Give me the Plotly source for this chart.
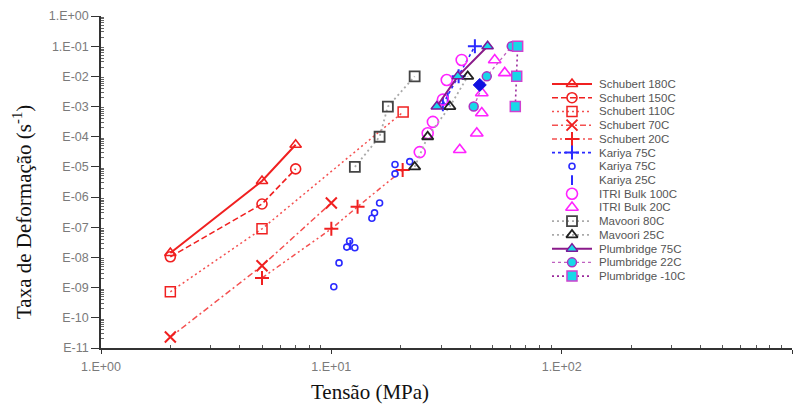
import plotly.graph_objects as go

# ---------------- data ----------------
s180_x = [2, 5, 7]
s180_y = [1.4e-8, 3.4e-6, 5.4e-5]
s150_x = [2, 5, 7]
s150_y = [1.05e-8, 5.9e-7, 8.6e-6]
s110_x = [2, 5, 20.5]
s110_y = [7.3e-10, 8.9e-8, 6.6e-4]
s70_x = [2, 5, 10]
s70_y = [2.3e-11, 5.3e-9, 6.4e-7]
s20_x = [5, 10, 13, 20.4]
s20_y = [2.1e-9, 8.9e-8, 4.8e-7, 7.9e-6]

k75l_x = [30.5, 35.7, 42]
k75l_y = [1.2e-3, 1e-2, 1e-1]
k75c_x = [10.25, 10.8, 11.67, 12.0, 12.65, 15.0, 15.4, 16.2, 18.9, 18.9, 21.9]
k75c_y = [1.07e-9, 6.6e-9, 2.2e-8, 3.5e-8, 2.1e-8, 2.0e-7, 3.0e-7, 6.4e-7, 5.9e-6, 1.2e-5, 1.5e-5]
k25_x = [12.1, 32]
k25_y = [2.6e-8, 2.0e-3]

itri100_x = [36.8, 31.7, 30.5, 27.6, 26.2, 24.2]
itri100_y = [3.5e-2, 7.6e-3, 1.7e-3, 3.1e-4, 1.3e-4, 3.1e-5]
itri20_x = [51.2, 56.6, 45, 45, 42.8, 36.1]
itri20_y = [3.5e-2, 1.3e-2, 2.8e-3, 6.1e-4, 1.3e-4, 3.7e-5]

mav80_x = [12.65, 16.2, 17.6, 23.0]
mav80_y = [1e-5, 1e-4, 1e-3, 1e-2]
mav25_x = [23.0, 26.2, 32.7, 39.1]
mav25_y = [1e-5, 1e-4, 1e-3, 1e-2]

pl75_x = [28.7, 35.4, 47.7]
pl75_y = [1e-3, 1e-2, 1e-1]
pl22_x = [41.5, 47.3, 60.7]
pl22_y = [1e-3, 1e-2, 1e-1]
plm10_x = [62.9, 63.8, 64.4]
plm10_y = [1e-3, 1e-2, 1e-1]

extra_x = [44.1]
extra_y = [5.2e-3]

x_tickvals = [1, 10, 100, 1000]
x_ticktext = ["1.E+00", "1.E+01", "1.E+02", "1.E+03"]
y_tickvals = [10.0 ** (-k) for k in range(0, 12)]
y_ticktext = ["1.E+00", "1.E-01", "E-02", "E-03", "E-04", "E-05", "E-06",
              "E-07", "E-08", "E-09", "E-10", "E-11"]

# ---------------- styles ----------------
RED = "#f02020"
BLUE = "#2a2aff"
MAG = "#ff22ff"
GRAY = "#444444"
CYAN = "#18d8e8"

series = [
    dict(name="Schubert 180C", x=s180_x, y=s180_y, line=dict(color=RED, width=2, dash="solid"),
         marker=dict(symbol="triangle-up-open", size=10, color=RED, line=dict(width=1.6, color=RED))),
    dict(name="Schubert 150C", x=s150_x, y=s150_y, line=dict(color=RED, width=1.6, dash="6px,3px"),
         marker=dict(symbol="circle-open", size=10, color=RED, line=dict(width=1.6, color=RED))),
    dict(name="Schubert 110C", x=s110_x, y=s110_y, line=dict(color="#f45050", width=1.5, dash="2px,3px"),
         marker=dict(symbol="square-open", size=10, color=RED, line=dict(width=1.5, color=RED))),
    dict(name="Schubert 70C", x=s70_x, y=s70_y, line=dict(color="#f45050", width=1.5, dash="6px,3px,2px,3px"),
         marker=dict(symbol="x-thin-open", size=11, color=RED, line=dict(width=2, color=RED))),
    dict(name="Schubert 20C", x=s20_x, y=s20_y, line=dict(color="#f45050", width=1.5, dash="5px,3px,2px,3px,2px,3px"),
         marker=dict(symbol="cross-thin-open", size=10, color=RED, line=dict(width=2, color=RED))),
    dict(name="Kariya 75C", x=k75l_x, y=k75l_y, line=dict(color=BLUE, width=1.6, dash="3px,3px"),
         marker=dict(symbol="cross-thin-open", size=10, color=BLUE, line=dict(width=2, color=BLUE))),
    dict(name="Kariya 75C", x=k75c_x, y=k75c_y, line=None,
         marker=dict(symbol="circle-open", size=6, color=BLUE, line=dict(width=1.6, color=BLUE))),
    dict(name="Kariya 25C", x=k25_x, y=k25_y, line=None,
         marker=dict(symbol="line-ns-open", size=7, color=BLUE, line=dict(width=2, color=BLUE))),
    dict(name="ITRI Bulk 100C", x=itri100_x, y=itri100_y, line=None,
         marker=dict(symbol="circle-open", size=11, color=MAG, line=dict(width=1.6, color=MAG))),
    dict(name="ITRI Bulk 20C", x=itri20_x, y=itri20_y, line=None,
         marker=dict(symbol="triangle-up-open", size=11, color=MAG, line=dict(width=1.6, color=MAG))),
    dict(name="Mavoori 80C", x=mav80_x, y=mav80_y, line=dict(color="#aaaaaa", width=1.8, dash="2px,3px"),
         marker=dict(symbol="square-open", size=10, color=GRAY, line=dict(width=1.8, color=GRAY))),
    dict(name="Mavoori 25C", x=mav25_x, y=mav25_y, line=dict(color="#aaaaaa", width=1.8, dash="2px,3px"),
         marker=dict(symbol="triangle-up-open", size=10, color="#222222", line=dict(width=1.8, color="#222222"))),
    dict(name="Plumbridge 75C", x=pl75_x, y=pl75_y, line=dict(color="#8a1a8a", width=2, dash="solid"),
         marker=dict(symbol="triangle-up", size=10, color=CYAN, line=dict(width=1.5, color="#7a1a9a"))),
    dict(name="Plumbridge 22C", x=pl22_x, y=pl22_y, line=dict(color="#c060c0", width=1.3, dash="3px,3px"),
         marker=dict(symbol="circle", size=9, color=CYAN, line=dict(width=1.5, color="#b030c0"))),
    dict(name="Plumbridge -10C", x=plm10_x, y=plm10_y, line=dict(color="#9a2a9a", width=1.6, dash="2px,3px"),
         marker=dict(symbol="square", size=10, color=CYAN, line=dict(width=1.5, color="#d040d0"))),
]

fig = go.Figure()

for s in series:
    mode = "lines+markers" if s["line"] is not None else "markers"
    kw = dict(x=s["x"], y=s["y"], mode=mode, name=s["name"], marker=s["marker"],
              showlegend=False, hoverinfo="x+y+name")
    if s["line"] is not None:
        kw["line"] = s["line"]
    fig.add_trace(go.Scatter(**kw))

fig.add_trace(go.Scatter(x=extra_x, y=extra_y, mode="markers", showlegend=False,
                         marker=dict(symbol="diamond", size=10, color="#1010e0",
                                     line=dict(width=1, color="#1010e0"))))

# ---------------- custom compact legend (on hidden helper axes) ----------------
step = 13.72
for i, s in enumerate(series):
    yy = 8 + i * step
    if s["line"] is not None:
        fig.add_trace(go.Scatter(x=[0, 40], y=[yy, yy], mode="lines", line=s["line"],
                                 xaxis="x2", yaxis="y2", showlegend=False, hoverinfo="skip"))
    fig.add_trace(go.Scatter(x=[20], y=[yy], mode="markers", marker=s["marker"],
                             xaxis="x2", yaxis="y2", showlegend=False, hoverinfo="skip"))
    fig.add_annotation(x=45, y=yy, xref="x2", yref="y2", text=s["name"], showarrow=False,
                       xanchor="left", yanchor="middle",
                       font=dict(family="Liberation Sans, Arial", size=11.5, color="#555555"))

# ---------------- axes ----------------
minor_x = [k * 10 ** d for d in range(0, 3) for k in range(2, 10)]
minor_y = [k * 10.0 ** d for d in range(-11, 0) for k in range(2, 10)]

tickfont = dict(family="Liberation Sans, Arial", size=12.5, color="#7a7a7a")

fig.update_layout(
    width=798, height=405,
    margin=dict(l=101, r=6, t=16, b=57),
    paper_bgcolor="white", plot_bgcolor="white",
    xaxis=dict(type="log", range=[0, 3], tickmode="array", tickvals=x_tickvals, ticktext=x_ticktext,
               showgrid=False, zeroline=False, showline=True, linecolor="#333333", linewidth=1.5,
               ticks="outside", ticklen=4, tickcolor="#333333", tickfont=tickfont,
               ticklabelstandoff=2, automargin=False,
               minor=dict(tickmode="array", tickvals=minor_x, ticks="inside", ticklen=3,
                          tickcolor="#555555", showgrid=False)),
    yaxis=dict(type="log", range=[-11, 0], tickmode="array", tickvals=y_tickvals, ticktext=y_ticktext,
               showgrid=False, zeroline=False, showline=True, linecolor="#333333", linewidth=1.5,
               ticks="outside", ticklen=8, tickcolor="#333333", tickfont=tickfont, automargin=False,
               minor=dict(tickmode="array", tickvals=minor_y, ticks="inside", ticklen=3,
                          tickcolor="#666666", showgrid=False)),
    xaxis2=dict(domain=[(552 - 101) / 691, (720 - 101) / 691], range=[0, 168], anchor="y2",
                visible=False, fixedrange=True),
    yaxis2=dict(domain=[(348 - 284) / 332, (348 - 76) / 332], range=[208, 0], anchor="x2",
                visible=False, fixedrange=True),
    showlegend=False,
)

fig.add_annotation(x=(22 - 101) / 691, y=(348 - 212) / 332, xref="paper", yref="paper",
                   xanchor="center", yanchor="middle",
                   text="Taxa de Deformação (s<sup>-1</sup>)", textangle=-90, showarrow=False,
                   font=dict(family="Liberation Serif, Times New Roman", size=21, color="#111111"))
fig.add_annotation(x=(370 - 101) / 691, y=(348 - 392) / 332, xref="paper", yref="paper",
                   xanchor="center", yanchor="middle",
                   text="Tensão (MPa)", showarrow=False,
                   font=dict(family="Liberation Serif, Times New Roman", size=21, color="#111111"))

fig.write_html("out.html")
